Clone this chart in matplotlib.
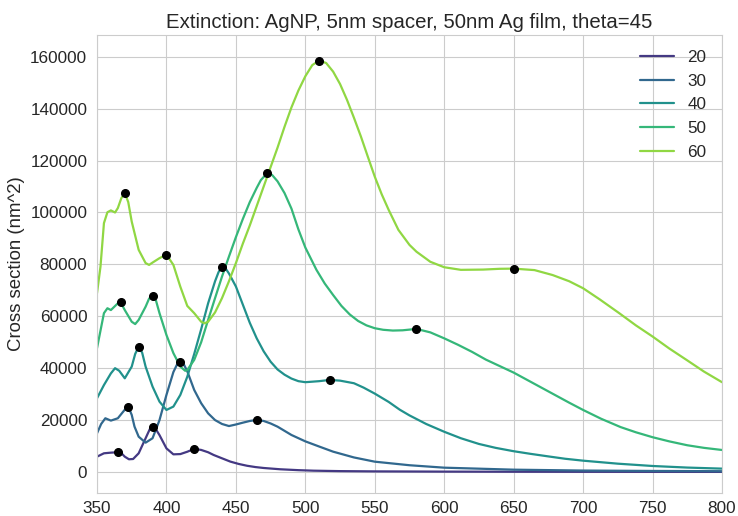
import numpy as np
import matplotlib
matplotlib.use("Agg")
import matplotlib.pyplot as plt
import seaborn as sns

sns.set_style("whitegrid")
plt.rcParams['font.family'] = ['Liberation Sans', 'DejaVu Sans']

title = "Extinction: AgNP, 5nm spacer, 50nm Ag film, theta=45"
ylabel = "Cross section (nm^2)"
labels = ["20", "30", "40", "50", "60"]
xticks = [350, 400, 450, 500, 550, 600, 650, 700, 750, 800]

wl20 = [350, 355, 360, 365, 368, 370, 373, 376, 380, 385, 388, 390, 392, 395, 400, 405, 410, 415, 420,
        425, 430, 434, 440, 446, 452, 458, 464, 470, 482, 495, 506, 525, 550, 600, 650, 700, 750, 800]
v20 = [5900, 7200, 7450, 7600, 7000, 5900, 4900, 5000, 7200, 13000, 16500, 17460, 16800, 14200, 9100,
       6800, 6900, 7800, 8900, 8500, 7600, 6550, 5270, 4000, 3100, 2400, 1900, 1540, 1040, 700, 500,
       330, 230, 140, 90, 60, 45, 35]

wl30 = [350, 353, 356, 360, 365, 370, 372.5, 375, 377, 380, 385, 390, 395, 400, 405, 407.5, 410, 412.5,
        415, 420, 425, 430, 435, 440, 445, 450, 455, 460, 465, 470, 475, 480, 490, 500, 510, 520, 535,
        550, 575, 600, 650, 700, 750, 800]
v30 = [14900, 18500, 20700, 19800, 20700, 24000, 25170, 22000, 17500, 13600, 11300, 13000, 20000, 29700,
       38500, 41300, 42520, 41500, 38800, 31600, 26500, 22600, 20000, 18500, 17700, 18300, 19000, 19660,
       20050, 19660, 18700, 17460, 14260, 11800, 9800, 7830, 5600, 3970, 2600, 1660, 890, 550, 400, 300]

wl40 = [350, 355, 360, 363, 366, 370, 375, 377.5, 380, 382.5, 385, 390, 395, 400, 405, 410, 415, 420,
        425, 430, 435, 437.5, 440, 442.5, 445, 450, 455, 460, 465, 470, 475, 480, 485, 490, 495, 500,
        510, 517.5, 525, 535, 542, 550, 560, 568, 575, 587, 600, 612, 625, 637, 650, 662, 675, 687, 700,
        725, 750, 775, 800]
v40 = [28400, 33500, 38000, 40000, 39000, 36100, 40600, 45500, 48300, 46000, 40600, 32900, 27100, 23900,
       25200, 29700, 36700, 45500, 55000, 65000, 73500, 77000, 79150, 78500, 76500, 71500, 64500, 57500,
       51500, 46500, 42500, 39500, 37500, 36000, 35000, 34600, 35000, 35470, 35200, 34200, 32500, 30200,
       27000, 24000, 21800, 18500, 15500, 13000, 10800, 9300, 8000, 7000, 6000, 5100, 4360, 3200, 2310,
       1700, 1290]

wl50 = [350, 355, 357.5, 360, 365, 367, 370, 375, 377.5, 380, 385, 387.5, 390, 392.5, 395, 400, 405,
        410, 413.5, 415, 420, 425, 430, 435, 440, 445, 450, 455, 460, 465, 468, 472.5, 476, 480, 485,
        490, 495, 500, 508, 514, 520, 526, 532, 538, 544, 550, 556, 563, 570, 580, 590, 600, 610, 620,
        630, 640, 650, 660, 670, 680, 690, 700, 713, 727, 738, 750, 762, 775, 787, 800]
v50 = [47700, 61200, 63100, 62400, 65000, 65400, 62400, 57900, 57000, 58600, 63700, 66800, 67970, 66000,
       61200, 52800, 45800, 40600, 39000, 39300, 43200, 50000, 58600, 67000, 75300, 83000, 90500, 97500,
       104000, 109500, 112500, 115150, 114500, 112000, 107500, 101500, 93500, 86500, 77900, 72600,
       68200, 64000, 60700, 58200, 56500, 55400, 54800, 54500, 54600, 55130, 53800, 51500, 49000, 46300,
       43300, 40800, 38300, 35400, 32500, 29600, 26700, 23900, 20500, 17300, 15300, 13400, 11800, 10300,
       9300, 8480]

wl60 = [350, 352.5, 355, 357.5, 360, 363, 365, 367.5, 370, 372.5, 375, 380, 385, 387.5, 390, 395, 400,
        405, 410, 415, 420, 425, 427.5, 430, 435, 440, 445, 450, 455, 460, 465, 470, 475, 480, 485, 490,
        495, 500, 505, 510, 515, 520, 525, 530, 535, 540, 545, 550, 555, 560, 567, 575, 580, 590, 600,
        612, 628, 640, 650, 665, 678, 690, 700, 712, 726, 738, 750, 762, 775, 787, 800]
v60 = [68900, 79100, 95900, 100100, 100800, 100000, 101700, 105500, 107550, 104000, 96500, 85600, 80500,
       79800, 80700, 82400, 83770, 79800, 71400, 64000, 61200, 57900, 57300, 57900, 61500, 67000, 73500,
       80500, 88000, 95000, 102500, 110000, 117500, 125000, 133000, 140500, 147000, 152500, 156800,
       158560, 157600, 154300, 149500, 143400, 136500, 129300, 121500, 113800, 107000, 101000, 93300,
       87500, 84900, 81000, 78900, 77900, 78000, 78300, 78370, 77800, 75900, 73500, 70800, 66500, 61200,
       56500, 52200, 47600, 43000, 38700, 34600]

peak_wl = [[365, 390, 420], [372.5, 410, 465], [380, 440, 517.5], [367, 390, 472.5, 580],
           [370, 400, 510, 650]]
peak_v = [[7600, 17460, 8900], [25170, 42520, 20050], [48300, 79150, 35470],
          [65400, 67970, 115150, 55130], [107550, 83770, 158560, 78370]]

series_wl = [wl20, wl30, wl40, wl50, wl60]
series_v = [v20, v30, v40, v50, v60]

colors = plt.cm.viridis(np.linspace(0, 1, 7)[1:-1])

fig = plt.figure(figsize=(7.38, 5.16), dpi=100)
ax = fig.add_axes([97/738, 1 - 493/516, (722 - 97)/738, (493 - 35)/516])

for wl, v, lab, c in zip(series_wl, series_v, labels, colors):
    ax.plot(wl, v, color=c, lw=1.6, label=lab, solid_joinstyle='round')
for pw, pv in zip(peak_wl, peak_v):
    ax.plot(pw, pv, 'o', color='black', ms=5.5, zorder=5)

ax.set_xlim(350, 800)
ax.set_ylim(-8100, 168400)
ax.set_xticks(xticks)
ax.set_yticks([0, 20000, 40000, 60000, 80000, 100000, 120000, 140000, 160000])
ax.tick_params(labelsize=12.3, colors='.15')
ax.tick_params(axis='x', pad=2.5)
ax.set_title(title, fontsize=14.7, color='.15', pad=5)
ax.set_ylabel(ylabel, fontsize=13.4, color='.15')
ax.legend(loc='upper right', frameon=False, fontsize=12.3)

fig.savefig("out.png", dpi=100)
